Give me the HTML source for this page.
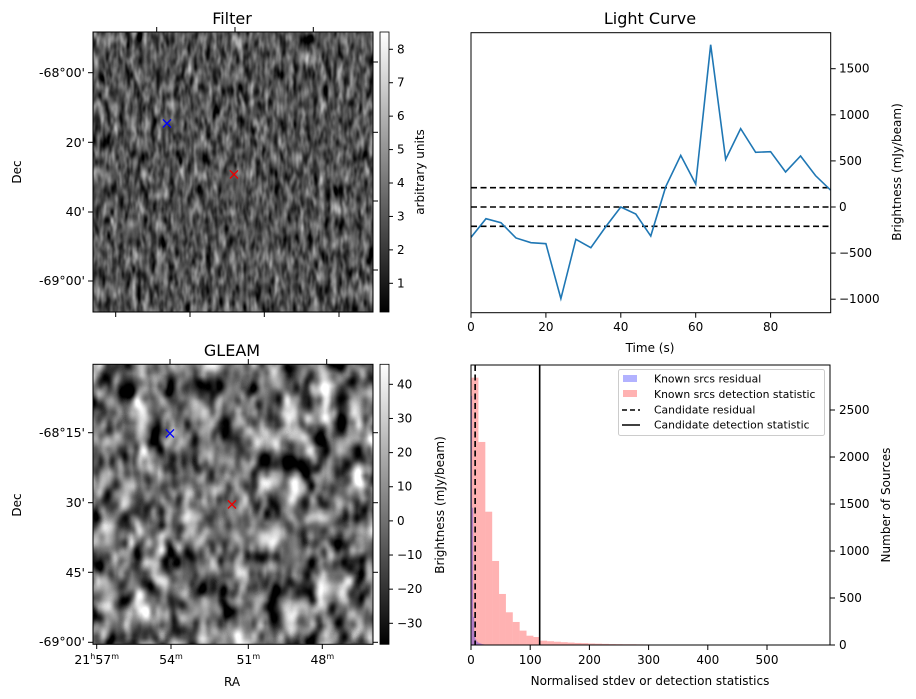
<!DOCTYPE html>
<html><head><meta charset="utf-8"><style>
body{margin:0;background:#fff}
svg{display:block;font-family:"DejaVu Sans","Liberation Sans",sans-serif}
text{fill:#000}
</style></head><body>
<svg id="fig" width="916" height="699" viewBox="0 0 916 699" xmlns="http://www.w3.org/2000/svg">
<defs>
<filter id="noiseF" x="0" y="0" width="100%" height="100%" color-interpolation-filters="sRGB">
<feTurbulence type="fractalNoise" baseFrequency="0.16 0.06" numOctaves="2" seed="3"/>
<feColorMatrix type="matrix" values="0.33 0.33 0.33 0 0 0.33 0.33 0.33 0 0 0.33 0.33 0.33 0 0 0 0 0 0 1"/>
<feComponentTransfer><feFuncR type="linear" slope="1.7" intercept="-0.52"/><feFuncG type="linear" slope="1.7" intercept="-0.52"/><feFuncB type="linear" slope="1.7" intercept="-0.52"/></feComponentTransfer>
</filter>
<filter id="noiseG" x="0" y="0" width="100%" height="100%" color-interpolation-filters="sRGB">
<feTurbulence type="fractalNoise" baseFrequency="0.06 0.04" numOctaves="2" seed="7"/>
<feColorMatrix type="matrix" values="0.33 0.33 0.33 0 0 0.33 0.33 0.33 0 0 0.33 0.33 0.33 0 0 0 0 0 0 1"/>
<feComponentTransfer><feFuncR type="linear" slope="3.2" intercept="-1.15"/><feFuncG type="linear" slope="3.2" intercept="-1.15"/><feFuncB type="linear" slope="3.2" intercept="-1.15"/></feComponentTransfer>
</filter>
<linearGradient id="cb" x1="0" y1="1" x2="0" y2="0"><stop offset="0" stop-color="#000"/><stop offset="1" stop-color="#fff"/></linearGradient>
</defs>

<!-- Filter panel -->
<text x="232" y="24" font-size="16" text-anchor="middle">Filter</text>
<rect x="93" y="32" width="280" height="280" filter="url(#noiseF)"/>
<rect x="93" y="32" width="280" height="280" fill="none" stroke="#000"/>
<g font-size="12.5" text-anchor="end">
<line x1="88" x2="93" y1="72.7" y2="72.7" stroke="#000"/><text x="85" y="77">-68°00'</text>
<line x1="88" x2="93" y1="142.3" y2="142.3" stroke="#000"/><text x="85" y="147">20'</text>
<line x1="88" x2="93" y1="212" y2="212" stroke="#000"/><text x="85" y="216">40'</text>
<line x1="88" x2="93" y1="281" y2="281" stroke="#000"/><text x="85" y="285">-69°00'</text>
</g>
<g stroke="#000">
<line x1="156.7" x2="156.7" y1="27" y2="32"/><line x1="235" x2="235" y1="27" y2="32"/><line x1="313.3" x2="313.3" y1="27" y2="32"/>
<line x1="115.7" x2="115.7" y1="312" y2="317"/><line x1="190" x2="190" y1="312" y2="317"/><line x1="264.3" x2="264.3" y1="312" y2="317"/><line x1="339" x2="339" y1="312" y2="317"/>
<line x1="373" x2="378" y1="62" y2="62"/><line x1="373" x2="378" y1="132.3" y2="132.3"/><line x1="373" x2="378" y1="201" y2="201"/><line x1="373" x2="378" y1="270" y2="270"/>
</g>
<text transform="translate(21,172) rotate(-90)" font-size="12" text-anchor="middle">Dec</text>
<text x="167" y="128.5" font-size="16" style="fill:#00f" text-anchor="middle">×</text>
<text x="234" y="179.5" font-size="16" style="fill:#e00" text-anchor="middle">×</text>
<rect x="380" y="32" width="9" height="280" fill="url(#cb)" stroke="#000" stroke-width="0.8"/>
<g id="cbF" font-size="12"></g>
<text transform="translate(424,172) rotate(-90)" font-size="12" text-anchor="middle">arbitrary units</text>

<!-- GLEAM panel -->
<text x="232" y="356" font-size="16" text-anchor="middle">GLEAM</text>
<rect x="93" y="364.3" width="280" height="280" filter="url(#noiseG)"/>
<rect x="93" y="364.3" width="280" height="280" fill="none" stroke="#000"/>
<g font-size="12.5" text-anchor="end">
<line x1="88" x2="93" y1="432.7" y2="432.7" stroke="#000"/><text x="85" y="437">-68°15'</text>
<line x1="88" x2="93" y1="502.7" y2="502.7" stroke="#000"/><text x="85" y="507">30'</text>
<line x1="88" x2="93" y1="572.3" y2="572.3" stroke="#000"/><text x="85" y="577">45'</text>
<line x1="88" x2="93" y1="642.3" y2="642.3" stroke="#000"/><text x="85" y="646">-69°00'</text>
</g>
<g stroke="#000">
<line x1="170" x2="170" y1="359" y2="364"/><line x1="248.3" x2="248.3" y1="359" y2="364"/><line x1="326.7" x2="326.7" y1="359" y2="364"/>
<line x1="373" x2="378" y1="432.7" y2="432.7"/><line x1="373" x2="378" y1="502.7" y2="502.7"/><line x1="373" x2="378" y1="572.3" y2="572.3"/><line x1="373" x2="378" y1="642.3" y2="642.3"/>
</g>
<g font-size="12.5" text-anchor="middle">
<line x1="96.7" x2="96.7" y1="644" y2="649" stroke="#000"/><text x="96.7" y="664">21<tspan font-size="8" dy="-5">h</tspan><tspan dy="5">57</tspan><tspan font-size="8" dy="-5">m</tspan></text>
<line x1="171" x2="171" y1="644" y2="649" stroke="#000"/><text x="171" y="664">54<tspan font-size="8" dy="-5">m</tspan></text>
<line x1="248.3" x2="248.3" y1="644" y2="649" stroke="#000"/><text x="248.3" y="664">51<tspan font-size="8" dy="-5">m</tspan></text>
<line x1="322.3" x2="322.3" y1="644" y2="649" stroke="#000"/><text x="322.3" y="664">48<tspan font-size="8" dy="-5">m</tspan></text>
</g>
<text x="232" y="686" font-size="12" text-anchor="middle">RA</text>
<text transform="translate(21,505) rotate(-90)" font-size="12" text-anchor="middle">Dec</text>
<text x="170" y="438.5" font-size="16" style="fill:#00f" text-anchor="middle">×</text>
<text x="232" y="509.5" font-size="16" style="fill:#e00" text-anchor="middle">×</text>
<rect x="380" y="364.3" width="9" height="280" fill="url(#cb)" stroke="#000" stroke-width="0.8"/>
<g id="cbG" font-size="12"></g>
<text transform="translate(444,505) rotate(-90)" font-size="12" text-anchor="middle">Brightness (mJy/beam)</text>

<!-- Light curve -->
<text x="650" y="24" font-size="16" text-anchor="middle">Light Curve</text>
<g id="lc"></g>
<rect x="471" y="32.7" width="359.7" height="280" fill="none" stroke="#000"/>
<text x="650" y="352" font-size="12" text-anchor="middle">Time (s)</text>
<text transform="translate(901,172) rotate(-90)" font-size="12" text-anchor="middle">Brightness (mJy/beam)</text>

<!-- Histogram -->
<g id="hist"></g>
<rect x="471" y="365" width="359" height="280" fill="none" stroke="#000"/>
<text x="650" y="685" font-size="12" text-anchor="middle">Normalised stdev or detection statistics</text>
<text transform="translate(890,505) rotate(-90)" font-size="12" text-anchor="middle">Number of Sources</text>
<g font-size="10.8">
<rect x="618.5" y="369.5" width="206" height="66" rx="2" fill="#fff" fill-opacity="0.8" stroke="#ccc"/>
<rect x="623" y="375" width="14" height="7" fill="rgba(0,0,255,0.3)"/>
<text x="654" y="382.5">Known srcs residual</text>
<rect x="623" y="390" width="14" height="7" fill="rgba(255,0,0,0.3)"/>
<text x="654" y="398">Known srcs detection statistic</text>
<line x1="622" x2="640" y1="410" y2="410" stroke="#000" stroke-width="1.5" stroke-dasharray="5,3"/>
<text x="654" y="413.5">Candidate residual</text>
<line x1="622" x2="640" y1="425" y2="425" stroke="#000" stroke-width="1.5"/>
<text x="654" y="428.5">Candidate detection statistic</text>
</g>
</svg>
<script>
// ---- Light curve data ----
const lcTimes = [0,4,8,12,16,20,24,28,32,36,40,44,48,52,56,60,64,68,72,76,80,84,88,92,96];
const lcBrightness = [-329,-127,-170,-336,-387,-398,-994,-351,-441,-213,0,-76,-315,220,560,249,1760,517,850,593,600,380,553,340,184];
const lcThresholds = [-210,0,210];
const lcXTicks = [0,20,40,60,80];
const lcYTicks = [-1000,-500,0,500,1000,1500];
// ---- Histogram data ----
const detBinStart = 1, detBinWidth = 11.6;
const detCounts = [2844,2160,1418,894,543,348,245,153,99,85,46,40,35,30,26,22,20,16,14,12,10,9,8,8,7,6,5,5,4,4,4,3,3,3,3,3,2,2,2,2,2,2,2,2,2,2,2,2,2];
const resBinStart = 0, resBinWidth = 1.8;
const resCounts = [2650,1460,300,120,60,40,30,22,18,14,10,8,6,5,4];
const candidateResidual = 7;
const candidateDetection = 116;
const histXTicks = [0,100,200,300,400,500];
const histYTicks = [0,500,1000,1500,2000,2500];
// ---- Colorbar ticks ----
const filterCbTicks = [1,2,3,4,5,6,7,8];
const gleamCbTicks = [-30,-20,-10,0,10,20,30,40];

const NS='http://www.w3.org/2000/svg';
function mk(tag, attrs, parent){const e=document.createElementNS(NS,tag);for(const k in attrs)e.setAttribute(k,attrs[k]);parent.appendChild(e);return e;}

const lcX = t => 471 + t*3.745;
const lcY = v => 207 - v*0.0922;
const lc = document.getElementById('lc');
lcThresholds.forEach(v=>{
  const l=mk('line',{x1:471,x2:830.7,y1:lcY(v),y2:lcY(v),stroke:'#000','stroke-width':1.6,'stroke-dasharray':'6,3.5'},lc);
  
  
});
const pl=mk('polyline',{points:lcTimes.map((t,i)=>lcX(t)+','+lcY(lcBrightness[i])).join(' '),fill:'none',stroke:'#1f77b4','stroke-width':1.6},lc);


lcXTicks.forEach(t=>{
  mk('line',{x1:lcX(t),x2:lcX(t),y1:312.7,y2:317.7,stroke:'#000'},lc);
  const tx=mk('text',{x:lcX(t),y:331,'font-size':12,'text-anchor':'middle'},lc);tx.textContent=t;
  
  
});
lcYTicks.forEach(v=>{
  mk('line',{x1:830.7,x2:835.7,y1:lcY(v),y2:lcY(v),stroke:'#000'},lc);
  const tx=mk('text',{x:839,y:lcY(v)+4,'font-size':12},lc);tx.textContent=v<0?'\u2212'+(-v):v;
  
  
});

const hX = v => 471 + v*0.592;
const hY = c => 645 - c*0.094;
const hist = document.getElementById('hist');
detCounts.forEach((c,i)=>{
  const x0=hX(detBinStart+i*detBinWidth), x1=hX(detBinStart+(i+1)*detBinWidth);
  const r=mk('rect',{x:x0,y:hY(c),width:x1-x0,height:645-hY(c),fill:'rgba(255,0,0,0.3)'},hist);
  
  
});
resCounts.forEach((c,i)=>{
  const x0=hX(resBinStart+i*resBinWidth), x1=hX(resBinStart+(i+1)*resBinWidth);
  const r=mk('rect',{x:x0,y:hY(c),width:x1-x0,height:645-hY(c),fill:'rgba(0,0,255,0.3)'},hist);
  
  
});
const cr=mk('line',{x1:hX(candidateResidual),x2:hX(candidateResidual),y1:365,y2:645,stroke:'#000','stroke-width':1.6,'stroke-dasharray':'6,3.5'},hist);


const cd=mk('line',{x1:hX(candidateDetection),x2:hX(candidateDetection),y1:365,y2:645,stroke:'#000','stroke-width':1.6},hist);


histXTicks.forEach(t=>{
  mk('line',{x1:hX(t),x2:hX(t),y1:645,y2:650,stroke:'#000'},hist);
  const tx=mk('text',{x:hX(t),y:664,'font-size':12,'text-anchor':'middle'},hist);tx.textContent=t;
  
  
});
histYTicks.forEach(c=>{
  mk('line',{x1:830,x2:835,y1:hY(c),y2:hY(c),stroke:'#000'},hist);
  const tx=mk('text',{x:839,y:hY(c)+4,'font-size':12},hist);tx.textContent=c;
  
  
});

const cbF=document.getElementById('cbF');
filterCbTicks.forEach(v=>{
  const y=283.3-(v-1)*33.43;
  mk('line',{x1:389,x2:393,y1:y,y2:y,stroke:'#000'},cbF);
  const tx=mk('text',{x:397,y:y+4},cbF);tx.textContent=v;
  
  
});
const cbG=document.getElementById('cbG');
gleamCbTicks.forEach(v=>{
  const y=623.3-(v+30)*3.414;
  mk('line',{x1:389,x2:393,y1:y,y2:y,stroke:'#000'},cbG);
  const tx=mk('text',{x:397,y:y+4},cbG);tx.textContent=v<0?'\u2212'+(-v):v;
  
  
});
</script>
</body></html>
